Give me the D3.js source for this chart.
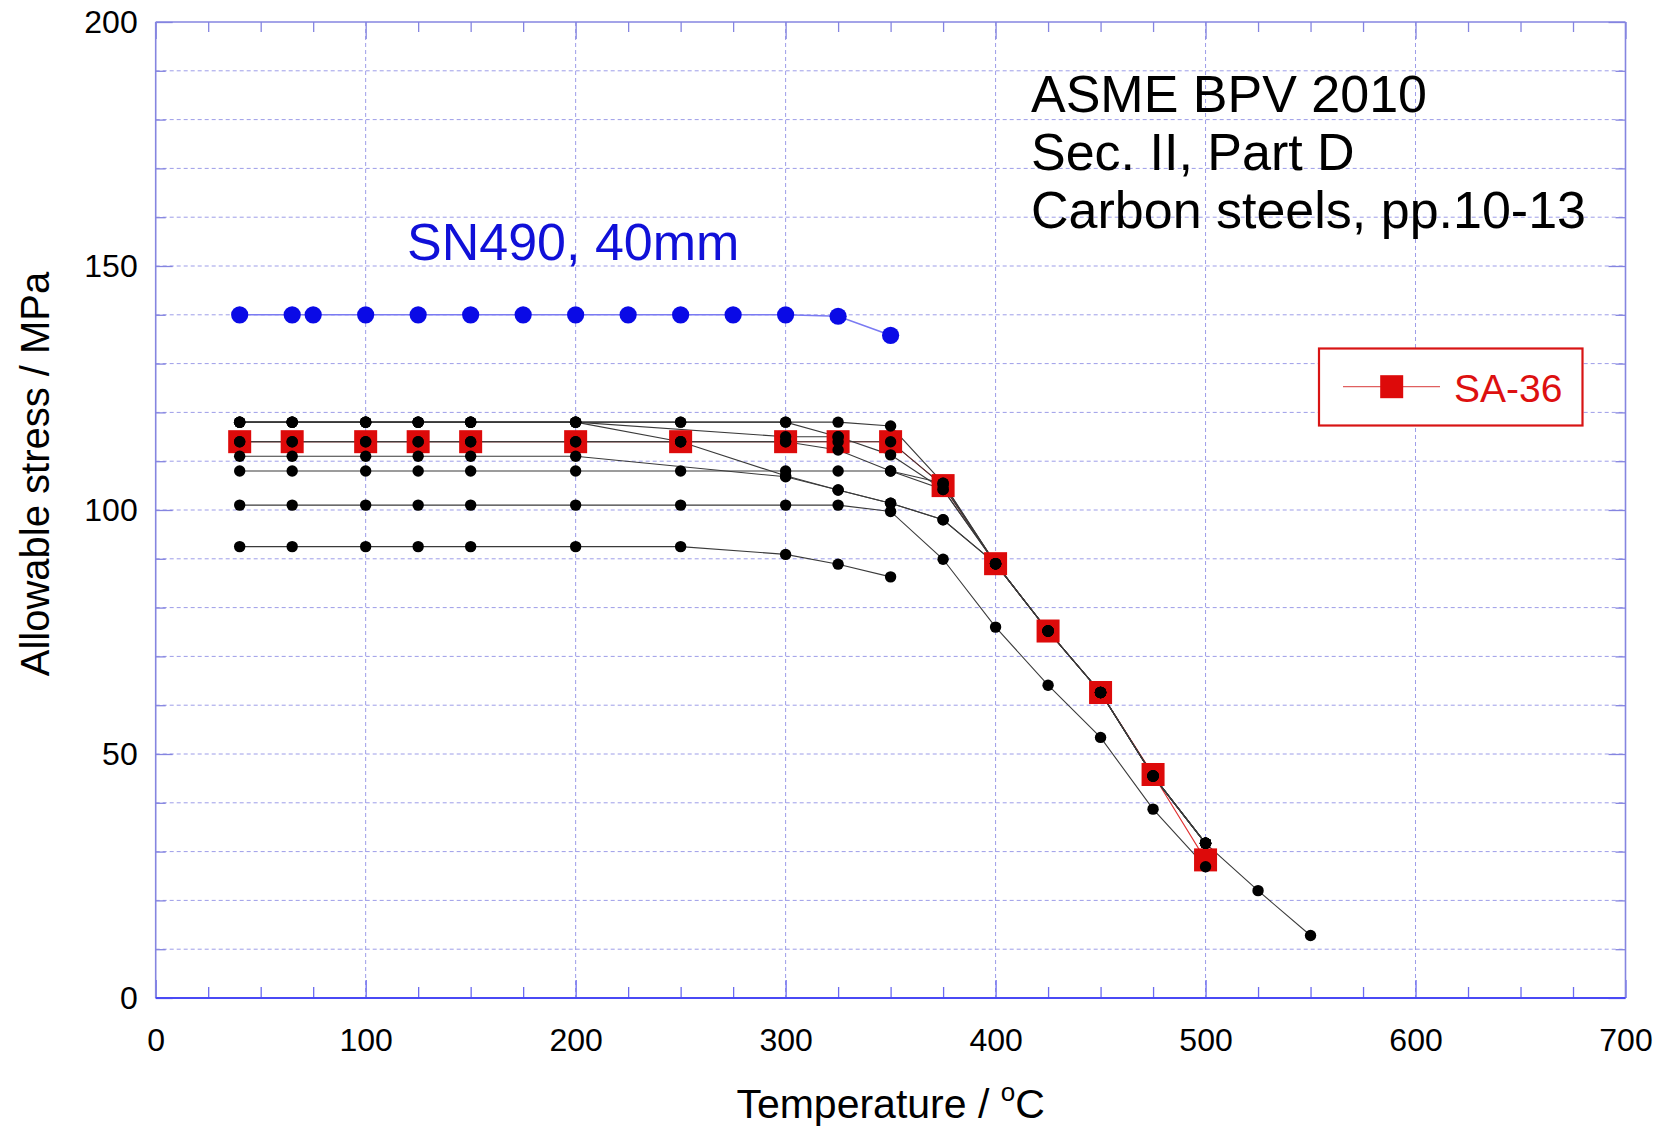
<!DOCTYPE html>
<html>
<head>
<meta charset="utf-8">
<script src="https://cdn.jsdelivr.net/npm/d3@7"></script>
<style>
  body { margin: 0; background: #fff; }
  svg { display: block; }
  text { font-family: Arial, "Liberation Sans", sans-serif; }
</style>
</head>
<body>
<svg id="chart" width="1662" height="1127"></svg>
<script>
// ---- data: allowable stress (MPa) vs temperature (°C) ----
const xTicks = [0, 100, 200, 300, 400, 500, 600, 700];
const yTicks = [0, 50, 100, 150, 200];

// SN490, 40 mm
const sn490T = [40, 65, 75, 100, 125, 150, 175, 200, 225, 250, 275, 300, 325, 350];
const sn490S = [140, 140, 140, 140, 140, 140, 140, 140, 140, 140, 140, 140, 139.7, 135.8];

// SA-36
const sa36T = [40, 65, 100, 125, 150, 200, 250, 300, 325, 350, 375, 400, 425, 450, 475, 500];
const sa36S = [114, 114, 114, 114, 114, 114, 114, 114, 114, 114, 105, 89, 75.2, 62.6, 45.8, 28.3];

// other carbon steels (ASME BPV 2010, Sec. II, Part D, pp.10-13)
const steelAT = [40, 65, 100, 125, 150, 200, 250, 300, 325, 350, 375, 400, 425, 450, 475, 500, 525, 550];
const steelAS = [118, 118, 118, 118, 118, 118, 118, 118, 118, 117.2, 105.5, 89, 75.2, 62.6, 45.5, 31.7, 22, 12.8];
const steelBT = [40, 65, 100, 125, 150, 200, 250, 300, 325, 350, 375, 400, 425, 450, 475, 500];
const steelBS = [118, 118, 118, 118, 118, 118, 118, 118, 115, 111.3, 104.2, 89, 75.2, 62.6, 45.5, 31.7];
const steelCT = [40, 65, 100, 125, 150, 200, 300, 325];
const steelCS = [118, 118, 118, 118, 118, 118, 115, 115];
const steelDT = [40, 65, 100, 125, 150, 200, 250, 300, 325, 350, 375, 400, 425, 450, 475, 500];
const steelDS = [118, 118, 118, 118, 118, 118, 114, 107, 104.1, 101.4, 98, 89, 75.2, 62.6, 45.5, 31.7];
const steelET = [40, 65, 100, 125, 150, 200, 250, 300, 325, 350, 375, 400, 425, 450, 475, 500];
const steelES = [114, 114, 114, 114, 114, 114, 114, 114, 114, 114, 105, 89, 75.2, 62.6, 45.5, 31.7];
const steelFT = [40, 65, 100, 125, 150, 200, 250, 300, 325, 350, 375, 400, 425, 450, 475, 500];
const steelFS = [114, 114, 114, 114, 114, 114, 114, 114, 112.3, 108, 104.2, 89, 75.2, 62.6, 45.5, 31.7];
const steelGT = [40, 65, 100, 125, 150, 200, 300, 325, 350, 375, 400, 425, 450, 475, 500];
const steelGS = [111, 111, 111, 111, 111, 111, 106.8, 104.1, 101.4, 98, 89, 75.2, 62.6, 45.5, 31.7];
const steelHT = [40, 65, 100, 125, 150, 200, 250, 300, 325, 350, 375, 400, 425, 450, 475, 500];
const steelHS = [108, 108, 108, 108, 108, 108, 108, 108, 108, 108, 105.5, 89, 75.2, 62.6, 45.5, 31.7];
const steelIT = [40, 65, 100, 125, 150, 200, 250, 300, 325, 350, 375, 400, 425, 450, 475, 500];
const steelIS = [101, 101, 101, 101, 101, 101, 101, 101, 101, 99.7, 89.9, 76, 64.1, 53.4, 38.7, 26.9];
const steelJT = [40, 65, 100, 125, 150, 200, 250, 300, 325, 350];
const steelJS = [92.5, 92.5, 92.5, 92.5, 92.5, 92.5, 92.5, 90.9, 88.9, 86.3];

const zipSeries = (t, s) => t.map((v, i) => ({ t: v, s: s[i] }));
const carbonSteels = [
  [steelAT, steelAS], [steelBT, steelBS], [steelCT, steelCS], [steelDT, steelDS],
  [steelET, steelES], [steelFT, steelFS], [steelGT, steelGS], [steelHT, steelHS],
  [steelIT, steelIS], [steelJT, steelJS]
].map(([t, s]) => zipSeries(t, s));
const sa36 = zipSeries(sa36T, sa36S);
const sn490 = zipSeries(sn490T, sn490S);

// ---- layout ----
const svg = d3.select("#chart");
const x = d3.scaleLinear().domain([0, 700]).range([155.7, 1625.5]);
const y = d3.scaleLinear().domain([0, 200]).range([998, 22]);
const x0 = x.range()[0], x1 = x.range()[1], yTop = y.range()[1], yBot = y.range()[0];

const gridColor = "#9d9de8";
const frameColor = "#8585e0";

// dashed grid: every 10 MPa, every 100 °C
const grid = svg.append("g");
grid.selectAll("line.h").data(d3.range(10, 200, 10)).join("line")
  .attr("x1", x0).attr("x2", x1).attr("y1", d => y(d)).attr("y2", d => y(d))
  .attr("stroke", gridColor).attr("stroke-width", 1).attr("stroke-dasharray", "4,3");
grid.selectAll("line.v").data(d3.range(100, 700, 100)).join("line")
  .attr("y1", yTop).attr("y2", yBot).attr("x1", d => x(d)).attr("x2", d => x(d))
  .attr("stroke", gridColor).attr("stroke-width", 1).attr("stroke-dasharray", "4,3");

// axes with inward ticks (major + minor)
function styleAxis(g, color) {
  g.select(".domain").remove();
  g.selectAll(".tick line").attr("stroke", color).attr("stroke-width", 1.3);
}
const xMinor = d3.range(0, 701, 25).filter(v => v % 100 !== 0);
const yMinor = d3.range(0, 201, 10).filter(v => v % 50 !== 0);

svg.append("g").attr("transform", `translate(0,${yBot})`)
  .call(d3.axisBottom(x).tickValues(xMinor).tickSize(-11).tickFormat(""))
  .call(g => styleAxis(g, "#6a6af0"));
svg.append("g").attr("transform", `translate(0,${yBot})`)
  .call(d3.axisBottom(x).tickValues(xTicks).tickSize(-18).tickPadding(30).tickFormat(d3.format("d")))
  .call(g => styleAxis(g, "#6a6af0"))
  .call(g => g.selectAll("text").attr("font-size", 32).attr("fill", "#000"));
svg.append("g").attr("transform", `translate(0,${yTop})`)
  .call(d3.axisTop(x).tickValues(xMinor).tickSize(-10).tickFormat(""))
  .call(g => styleAxis(g, frameColor));
svg.append("g").attr("transform", `translate(0,${yTop})`)
  .call(d3.axisTop(x).tickValues(xTicks).tickSize(-17).tickFormat(""))
  .call(g => styleAxis(g, frameColor));

svg.append("g").attr("transform", `translate(${x0},0)`)
  .call(d3.axisLeft(y).tickValues(yMinor).tickSize(-10).tickFormat(""))
  .call(g => styleAxis(g, frameColor));
svg.append("g").attr("transform", `translate(${x0},0)`)
  .call(d3.axisLeft(y).tickValues(yTicks).tickSize(-17).tickPadding(18).tickFormat(d3.format("d")))
  .call(g => styleAxis(g, frameColor))
  .call(g => g.selectAll("text").attr("font-size", 32).attr("fill", "#000"));
svg.append("g").attr("transform", `translate(${x1},0)`)
  .call(d3.axisRight(y).tickValues(yMinor).tickSize(-10).tickFormat(""))
  .call(g => styleAxis(g, frameColor));
svg.append("g").attr("transform", `translate(${x1},0)`)
  .call(d3.axisRight(y).tickValues(yTicks).tickSize(-17).tickFormat(""))
  .call(g => styleAxis(g, frameColor));

// plot frame
svg.append("line").attr("x1", x0).attr("x2", x0).attr("y1", yTop).attr("y2", yBot)
  .attr("stroke", frameColor).attr("stroke-width", 1.6);
svg.append("line").attr("x1", x1).attr("x2", x1).attr("y1", yTop).attr("y2", yBot)
  .attr("stroke", frameColor).attr("stroke-width", 1.6);
svg.append("line").attr("x1", x0).attr("x2", x1).attr("y1", yTop).attr("y2", yTop)
  .attr("stroke", frameColor).attr("stroke-width", 1.6);
svg.append("line").attr("x1", x0).attr("x2", x1).attr("y1", yBot).attr("y2", yBot)
  .attr("stroke", "#4a4af5").attr("stroke-width", 2);

// axis titles
svg.append("text").attr("x", (x0 + x1) / 2).attr("y", 1118).attr("text-anchor", "middle")
  .attr("font-size", 41).attr("fill", "#000")
  .call(t => {
    t.append("tspan").text("Temperature / ");
    t.append("tspan").attr("font-size", 26).attr("dy", -17).text("o");
    t.append("tspan").attr("dy", 17).text("C");
  });
svg.append("text").attr("transform", "translate(49,474) rotate(-90)").attr("text-anchor", "middle")
  .attr("font-size", 40).attr("fill", "#000").text("Allowable stress / MPa");

// ---- series ----
const line = d3.line().x(d => x(d.t)).y(d => y(d.s));

// SA-36 connecting line sits underneath the black curves
svg.append("path").datum(sa36).attr("d", line)
  .attr("fill", "none").attr("stroke", "#e23030").attr("stroke-width", 1.1);

const steelG = svg.append("g");
steelG.selectAll("path").data(carbonSteels).join("path")
  .attr("d", line).attr("fill", "none").attr("stroke", "#3a3a3a").attr("stroke-width", 1.1);

svg.append("path").datum(sn490).attr("d", line)
  .attr("fill", "none").attr("stroke", "#7a7af2").attr("stroke-width", 1.6);

const sq = 23;
svg.append("g").selectAll("rect").data(sa36).join("rect")
  .attr("x", d => x(d.t) - sq / 2).attr("y", d => y(d.s) - sq / 2)
  .attr("width", sq).attr("height", sq).attr("fill", "#dd0a0a");

svg.append("g").selectAll("g").data(carbonSteels).join("g")
  .selectAll("circle").data(d => d).join("circle")
  .attr("cx", d => x(d.t)).attr("cy", d => y(d.s)).attr("r", 5.7).attr("fill", "#000");

svg.append("g").selectAll("circle").data(sn490).join("circle")
  .attr("cx", d => x(d.t)).attr("cy", d => y(d.s)).attr("r", 8.6).attr("fill", "#0a0ae6");

// ---- annotations ----
svg.append("text").attr("x", 407).attr("y", 260).attr("font-size", 52)
  .attr("fill", "#1010d8").text("SN490, 40mm");

const note = svg.append("text").attr("x", 1031).attr("font-size", 52).attr("fill", "#000");
["ASME BPV 2010", "Sec. II, Part D", "Carbon steels, pp.10-13"].forEach((s, i) => {
  note.append("tspan").attr("x", 1031).attr("y", 112 + i * 58).text(s);
});

// legend
const lg = svg.append("g");
lg.append("rect").attr("x", 1319).attr("y", 348.5).attr("width", 263.5).attr("height", 77)
  .attr("fill", "#fff").attr("stroke", "#d81414").attr("stroke-width", 2.2);
lg.append("line").attr("x1", 1343).attr("x2", 1440).attr("y1", 386.7).attr("y2", 386.7)
  .attr("stroke", "#e06060").attr("stroke-width", 1.2);
lg.append("rect").attr("x", 1391.7 - sq / 2).attr("y", 386.7 - sq / 2).attr("width", sq).attr("height", sq)
  .attr("fill", "#dd0a0a");
lg.append("text").attr("x", 1454).attr("y", 401.5).attr("font-size", 39).attr("fill", "#dd1010").text("SA-36");
</script>
</body>
</html>
